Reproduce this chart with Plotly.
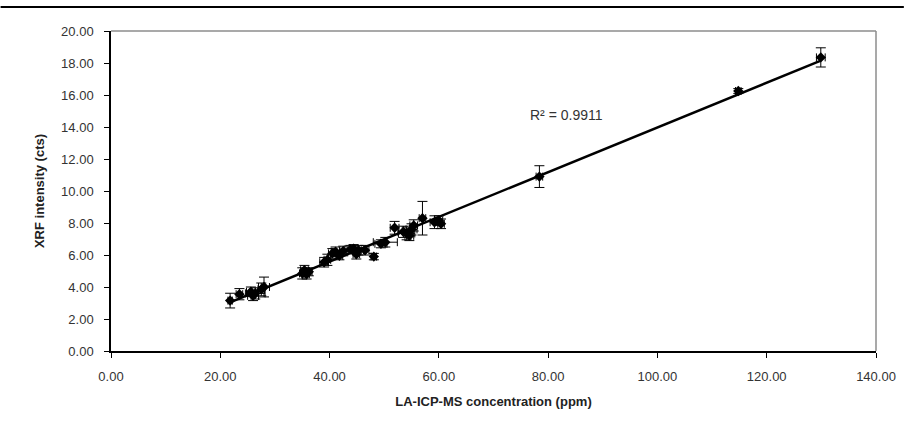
import numpy as np
import plotly.graph_objects as go

# LA-ICP-MS concentration (ppm) vs XRF intensity (cts), with 1-sigma uncertainties
conc = [21.8, 23.5, 25.6, 26.0, 26.4, 27.5, 28.0, 35.0, 35.4, 35.8, 36.2,
        39.0, 39.6, 40.5, 41.1, 41.8, 42.5, 43.8, 44.4, 44.9, 45.3, 46.5,
        48.1, 49.4, 50.2, 51.9, 53.5, 54.1, 54.6, 55.0, 55.4, 57.0, 59.2,
        60.0, 60.4, 78.4, 114.8, 129.9]
xrf = [3.15, 3.55, 3.70, 3.45, 3.60, 3.85, 4.00, 4.85, 5.05, 4.80, 4.95,
       5.55, 5.70, 6.10, 6.20, 5.95, 6.25, 6.35, 6.40, 6.05, 6.30, 6.30,
       5.90, 6.70, 6.80, 7.70, 7.45, 7.35, 7.20, 7.60, 7.85, 8.30, 8.05,
       8.15, 7.95, 10.90, 16.25, 18.35]
conc_err = [0.4, 0.6, 0.8, 1.0, 1.8, 0.6, 1.0, 0.5, 0.7, 0.5, 0.6,
            0.8, 0.6, 0.7, 0.8, 0.6, 0.7, 1.0, 0.8, 0.6, 0.9, 0.7,
            0.5, 1.1, 2.2, 0.8, 1.0, 1.5, 0.8, 1.0, 0.7, 0.6, 0.8,
            0.7, 0.6, 0.6, 0.5, 0.8]
xrf_err = [0.46, 0.35, 0.30, 0.30, 0.35, 0.40, 0.62, 0.35, 0.30, 0.30, 0.25,
           0.30, 0.35, 0.30, 0.30, 0.25, 0.30, 0.25, 0.25, 0.30, 0.30, 0.30,
           0.20, 0.25, 0.30, 0.40, 0.35, 0.40, 0.30, 0.35, 0.35, 1.05, 0.40,
           0.30, 0.30, 0.68, 0.15, 0.60]

r2_label = "R\u00b2 = 0.9911"

x_ticks = [0, 20, 40, 60, 80, 100, 120, 140]
y_ticks = [0, 2, 4, 6, 8, 10, 12, 14, 16, 18, 20]

# least-squares trend line across the data range
slope, intercept = np.polyfit(conc, xrf, 1)
fit_x = np.array([min(conc), max(conc)])
fit_y = slope * fit_x + intercept

fig = go.Figure()

fig.add_trace(go.Scatter(
    x=fit_x, y=fit_y, mode="lines",
    line=dict(color="black", width=2.5),
    hoverinfo="skip", showlegend=False,
))

fig.add_trace(go.Scatter(
    x=conc, y=xrf, mode="markers",
    marker=dict(symbol="diamond", size=8, color="black"),
    error_x=dict(type="data", array=conc_err, color="black", thickness=1, width=4),
    error_y=dict(type="data", array=xrf_err, color="black", thickness=1, width=5),
    showlegend=False,
))

fig.add_annotation(
    x=76.3, y=14.75, xref="x", yref="y", text=r2_label, showarrow=False,
    xanchor="left", yanchor="middle",
    font=dict(family="Liberation Sans, Arial, sans-serif", size=14, color="#333333"),
)

L, R, T, B = 111, 28, 31, 76
W, H = 908, 427
pw, ph = W - L - R, H - T - B

# gray plot-area frame on top and right
fig.add_shape(type="line", xref="paper", yref="paper", x0=0, x1=1, y0=1, y1=1,
              line=dict(color="#8c8c8c", width=1.5))
fig.add_shape(type="line", xref="paper", yref="paper", x0=1, x1=1, y0=0, y1=1,
              line=dict(color="#8c8c8c", width=1.5))
# rule across the top of the page
fig.add_shape(type="line", xref="paper", yref="paper",
              x0=-L / pw, x1=(W - L) / pw,
              y0=(ph + T - 7) / ph, y1=(ph + T - 7) / ph,
              line=dict(color="black", width=2))

tick_font = dict(family="Liberation Sans, Arial, sans-serif", size=13, color="#333333")
title_font = dict(family="Liberation Sans, Arial, sans-serif", size=13, color="#222222")

fig.update_xaxes(
    range=[0, 140], tickvals=x_ticks, ticktext=[f"{v:.2f}" for v in x_ticks],
    ticks="outside", ticklen=5, tickcolor="black", tickwidth=1,
    showline=True, linecolor="black", linewidth=1.5,
    showgrid=False, zeroline=False, tickfont=tick_font, ticklabelstandoff=8,
    title=dict(text="<b>LA-ICP-MS concentration (ppm)</b>", font=title_font, standoff=14),
)
fig.update_yaxes(
    range=[0, 20], tickvals=y_ticks, ticktext=[f"{v:.2f}" for v in y_ticks],
    ticks="outside", ticklen=5, tickcolor="black", tickwidth=1,
    showline=True, linecolor="black", linewidth=1.5,
    showgrid=False, zeroline=False, tickfont=tick_font, ticklabelstandoff=8,
    title=dict(text="<b>XRF intensity (cts)</b>", font=title_font, standoff=14),
)

fig.update_layout(
    width=W, height=H,
    margin=dict(l=L, r=R, t=T, b=B),
    paper_bgcolor="white", plot_bgcolor="white",
)

fig.write_html("out.html")
